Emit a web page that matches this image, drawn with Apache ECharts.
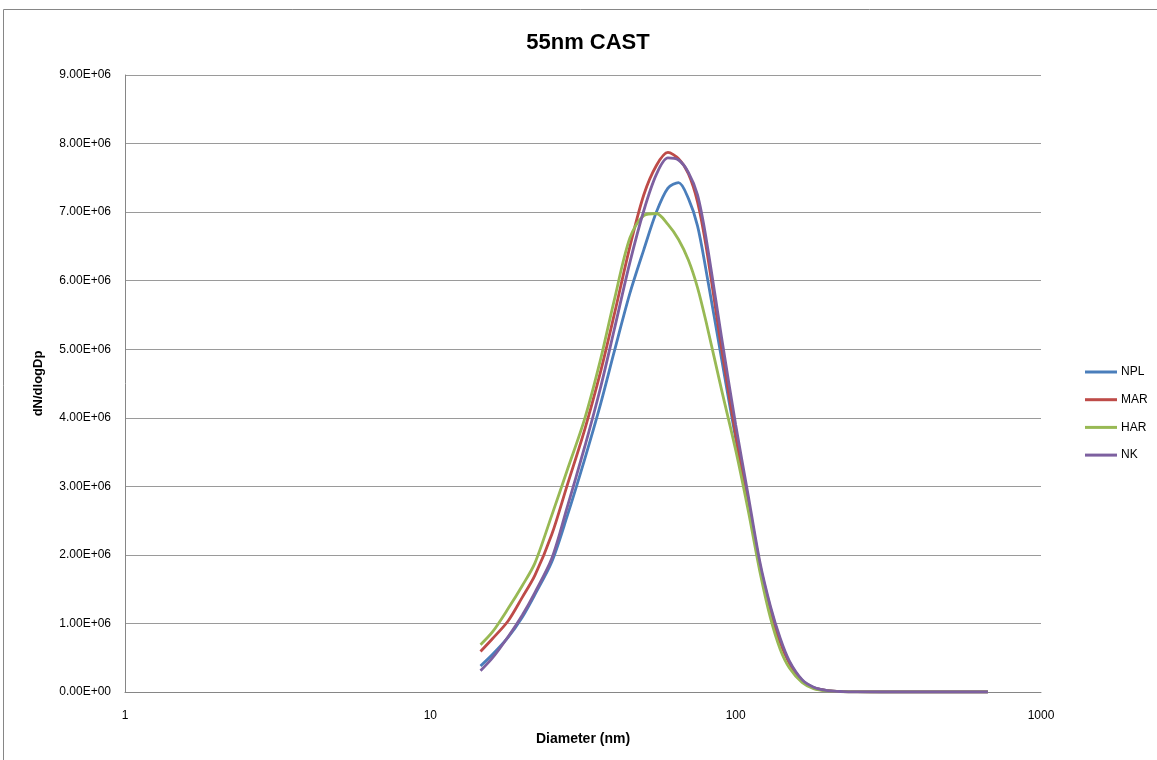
<!DOCTYPE html>
<html>
<head>
<meta charset="utf-8">
<title>55nm CAST</title>
<script src="https://cdn.jsdelivr.net/npm/echarts@6/dist/echarts.min.js"></script>
<style>
  html, body { margin: 0; padding: 0; background: #fff; }
  #chart { width: 1157px; height: 760px; }
</style>
</head>
<body>
<div id="chart"></div>
<script>
// diameters (nm)
const diameters = [14.6, 16, 18, 20, 22, 25, 28, 32, 36, 40, 45, 50, 55, 60, 65, 70, 75, 80, 90, 100,
  110, 120, 130, 140, 150, 165, 180, 200, 225, 250, 300, 400, 500, 670];

// dN/dlogDp in units of 1E+06
const npl = [0.38, 0.55, 0.80, 1.09, 1.42, 1.90, 2.55, 3.39, 4.18, 4.96, 5.81, 6.45, 7.00, 7.35, 7.43, 7.20, 6.80, 6.15, 4.85, 3.70,
  2.78, 1.86, 1.22, 0.75, 0.43, 0.17, 0.065, 0.02, 0.005, 0.001, 0, 0, 0, 0];
const mar = [0.59, 0.78, 1.04, 1.38, 1.70, 2.30, 3.00, 3.82, 4.65, 5.50, 6.49, 7.25, 7.68, 7.87, 7.78, 7.56, 7.15, 6.50, 5.00, 3.75,
  2.75, 1.82, 1.18, 0.72, 0.42, 0.16, 0.06, 0.02, 0.005, 0.001, 0, 0, 0, 0];
const har = [0.69, 0.88, 1.22, 1.55, 1.88, 2.58, 3.22, 3.98, 4.83, 5.71, 6.62, 6.95, 6.98, 6.82, 6.60, 6.30, 5.90, 5.40, 4.40, 3.53,
  2.64, 1.76, 1.08, 0.62, 0.35, 0.14, 0.05, 0.015, 0.004, 0.001, 0, 0, 0, 0];
const nk = [0.31, 0.50, 0.81, 1.12, 1.45, 1.95, 2.68, 3.57, 4.42, 5.28, 6.26, 7.02, 7.55, 7.79, 7.76, 7.58, 7.25, 6.62, 5.16, 3.90,
  2.86, 1.90, 1.25, 0.78, 0.45, 0.18, 0.07, 0.02, 0.006, 0.002, 0, 0, 0, 0];

const seriesNames = ["NPL", "MAR", "HAR", "NK"];
const seriesColors = ["#4A7EBB", "#BE4B48", "#98B954", "#7D60A0"];
const seriesValues = [npl, mar, har, nk];

const FONT = "Liberation Sans";

// 9000000 -> "9.00E+06"
const sciLabel = (v) => {
  if (v === 0) return "0.00E+00";
  const exp = Math.floor(Math.log10(v) + 1e-9);
  const mant = v / Math.pow(10, exp);
  return mant.toFixed(2) + "E+" + String(exp).padStart(2, "0");
};

var myChart = echarts.init(document.getElementById("chart"));

myChart.setOption({
  animation: false,
  textStyle: { fontFamily: FONT },
  title: {
    text: "55nm CAST",
    left: 583,
    textAlign: "center",
    top: 27,
    textStyle: { fontSize: 22, fontWeight: "bold", color: "#000", fontFamily: FONT },
  },
  graphic: [
    {
      type: "rect",
      shape: { x: 3.5, y: 9.5, width: 1200, height: 800 },
      style: { fill: "none", stroke: "#868686", lineWidth: 1 },
      silent: true,
    },
  ],
  legend: {
    orient: "vertical",
    left: 1080,
    top: 361,
    icon: "rect",
    itemWidth: 32,
    itemHeight: 3,
    itemGap: 15.7,
    textStyle: { fontSize: 12, color: "#000", fontFamily: FONT, padding: [0, 0, 0, -1] },
    data: seriesNames,
  },
  grid: {
    left: 125,
    right: 116,
    top: 75,
    bottom: 68,
    containLabel: false,
  },
  xAxis: {
    type: "log",
    logBase: 10,
    min: 1,
    max: 1000,
    name: "Diameter (nm)",
    nameLocation: "middle",
    nameGap: 40,
    nameTextStyle: { fontSize: 14, fontWeight: "bold", color: "#000", fontFamily: FONT },
    axisLine: { lineStyle: { color: "#868686", width: 1 } },
    axisTick: { show: false },
    splitLine: { show: false },
    minorTick: { show: false },
    axisLabel: { fontSize: 12, color: "#000", margin: 18, fontFamily: FONT, formatter: (v) => String(Math.round(v)) },
  },
  yAxis: {
    type: "value",
    min: 0,
    max: 9e6,
    interval: 1e6,
    name: "dN/dlogDp",
    nameLocation: "middle",
    nameGap: 80,
    nameTextStyle: { fontSize: 13, fontWeight: "bold", color: "#000", fontFamily: FONT },
    axisLine: { show: true, lineStyle: { color: "#868686", width: 1 } },
    axisTick: { show: false },
    splitLine: { lineStyle: { color: "#9a9a9a", width: 1 } },
    axisLabel: { fontSize: 12, color: "#000", margin: 14, formatter: sciLabel, fontFamily: FONT },
  },
  series: seriesNames.map((name, k) => ({
    name: name,
    type: "line",
    symbol: "none",
    smooth: 0.3,
    lineStyle: { width: 2.8, color: seriesColors[k] },
    itemStyle: { color: seriesColors[k] },
    data: diameters.map((d, i) => [d, seriesValues[k][i] * 1e6]),
  })),
});
</script>
</body>
</html>
